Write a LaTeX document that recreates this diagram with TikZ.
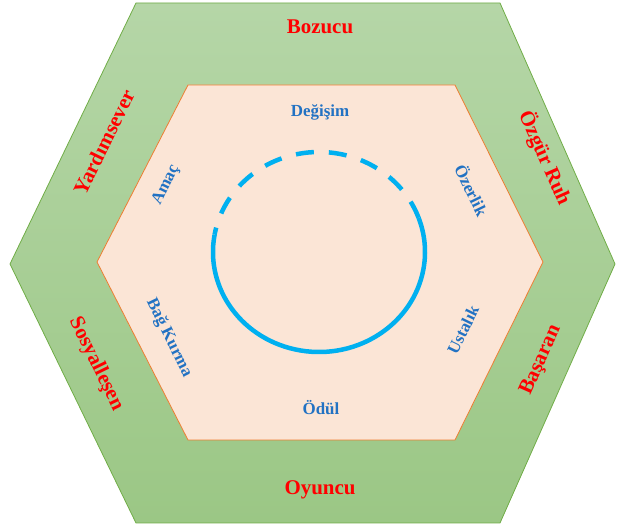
\documentclass[tikz,border=0pt]{standalone}
\usepackage{fontspec}
\setmainfont{Liberation Serif}
\usetikzlibrary{calc,positioning}
\definecolor{greentop}{HTML}{B5D6A7}
\definecolor{greenbot}{HTML}{9BC785}
\definecolor{greenline}{HTML}{70AD47}
\definecolor{peach}{HTML}{FBE5D6}
\definecolor{peachline}{HTML}{ED7D31}
\definecolor{labelred}{HTML}{FF0000}
\definecolor{labelblue}{HTML}{2272C3}
\definecolor{ringblue}{HTML}{00B0F0}

\begin{document}
\begin{tikzpicture}[
    x=1bp, y=1bp,
    red label/.style={text=labelred, inner sep=0pt,
        font=\fontsize{21}{24}\selectfont\bfseries},
    blue label/.style={text=labelblue, inner sep=0pt,
        font=\fontsize{17}{20}\selectfont\bfseries},
    ring/.style={draw=ringblue, line width=4.5bp}
]

% SAME BOUNDING BOX
\path[use as bounding box] (0,0) rectangle (623,530);

% OUTER HEXAGON
\coordinate (O1) at (136,527);
\coordinate (O2) at (500,527);
\coordinate (O3) at (615,266);
\coordinate (O4) at (500,7);
\coordinate (O5) at (136,7);
\coordinate (O6) at (10,266);
\draw[greenline, line width=0.8bp, top color=greentop, bottom color=greenbot]
    (O1) -- (O2) -- (O3) -- (O4) -- (O5) -- (O6) -- cycle;

% INNER HEXAGON
\coordinate (I1) at (188,445);
\coordinate (I2) at (455,445);
\coordinate (I3) at (543,268);
\coordinate (I4) at (455,90);
\coordinate (I5) at (188,90);
\coordinate (I6) at (97,268);
\draw[peachline, line width=0.8bp, fill=peach]
    (I1) -- (I2) -- (I3) -- (I4) -- (I5) -- (I6) -- cycle;

% RING
\coordinate (C) at (319,278);
\draw[ring, dash pattern=on 18bp off 15bp]
    (C) ++(20:106 and 100) arc[start angle=20, end angle=170, x radius=106, y radius=100];
\draw[ring]
    (C) ++(170:106 and 100) arc[start angle=170, end angle=380, x radius=106, y radius=100];

% OUTER LABELS
\node[red label] (bozucu) at (320,503) {Bozucu};
\node[red label] (oyuncu) at (320,40) {Oyuncu};
\node[red label, rotate=64] (yardimsever) at (104,388) {Yardımsever};
\node[red label, rotate=-66] (ozgur) at (545,372) {Özgür Ruh};
\node[red label, rotate=-64] (sosyal) at (96,166) {Sosyalleşen};
\node[red label, rotate=66] (basaran) at (541,170) {Başaran};

% INNER LABELS
\node[blue label] (degisim) at (320,418) {Değişim};
\node[blue label] (odul) at (321,122) {Ödül};
\node[blue label, rotate=64] (amac) at (166,345) {Amaç};
\node[blue label, rotate=-64] (ozerlik) at (472,340) {Özerlik};
\node[blue label, rotate=-64] (bag) at (169,192) {Bağ Kurma};
\node[blue label, rotate=64] (ustalik) at (463,200) {Ustalık};

\end{tikzpicture}
\end{document}
